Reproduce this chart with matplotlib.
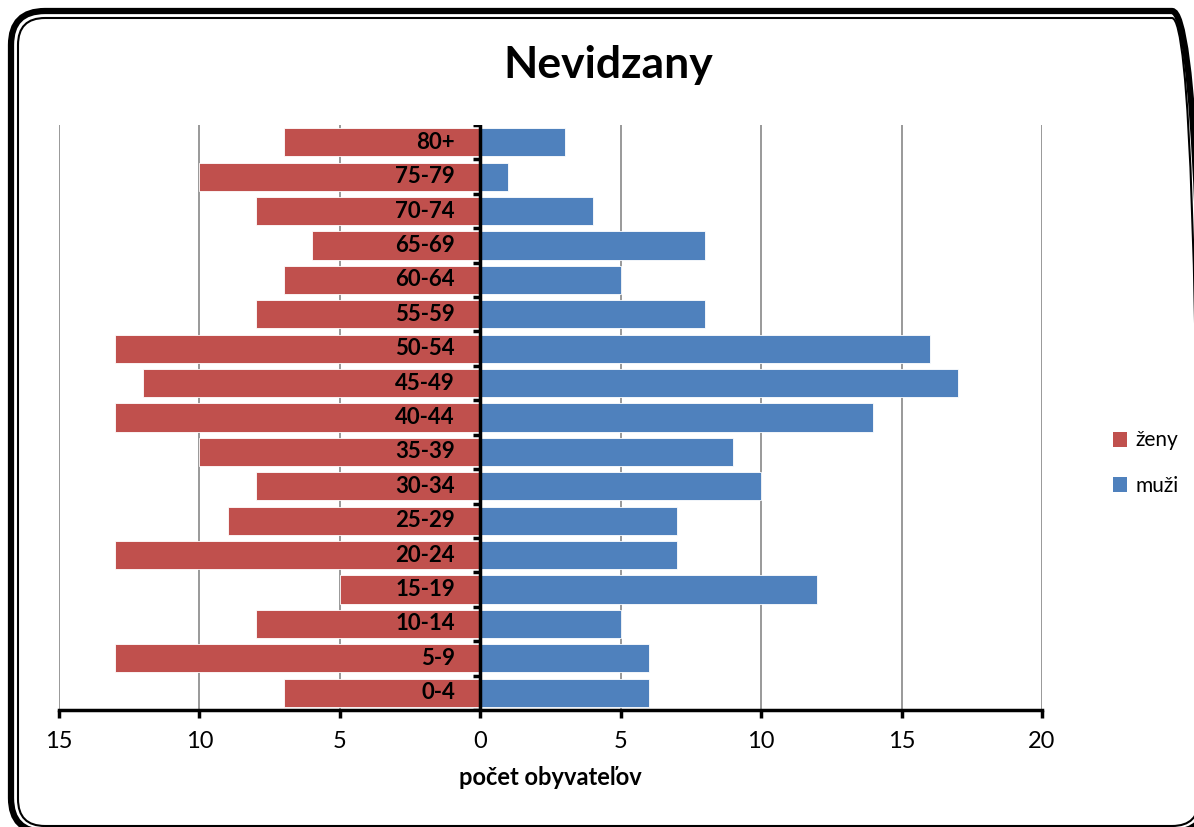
import matplotlib
matplotlib.use("Agg")
import matplotlib.pyplot as plt
from matplotlib.patches import FancyBboxPatch, Patch
import numpy as np

plt.rcParams['font.family'] = ['Lato', 'DejaVu Sans']

categories = ["0-4", "5-9", "10-14", "15-19", "20-24", "25-29", "30-34", "35-39",
              "40-44", "45-49", "50-54", "55-59", "60-64", "65-69", "70-74", "75-79", "80+"]
zeny = [7, 13, 8, 5, 13, 9, 8, 10, 13, 12, 13, 8, 7, 6, 8, 10, 7]
muzi = [6, 6, 5, 12, 7, 7, 10, 9, 14, 17, 16, 8, 5, 8, 4, 1, 3]
x_ticks = [-15, -10, -5, 0, 5, 10, 15, 20]
x_ticklabels = ["15", "10", "5", "0", "5", "10", "15", "20"]

red = "#C0504D"
blue = "#4F81BD"

W, H = 1194, 827
fig = plt.figure(figsize=(W / 100, H / 100), dpi=100)


def frame(x0, y0, x1, y1, r, lw):
    # pixel coords measured from top-left, drawn in inches
    fig.patches.append(FancyBboxPatch((x0 / 100, (H - y1) / 100), (x1 - x0) / 100, (y1 - y0) / 100,
                                      boxstyle="round,pad=0,rounding_size=%f" % (r / 100),
                                      transform=fig.dpi_scale_trans, fill=False,
                                      edgecolor="black", linewidth=lw))


frame(11, 11, 1206, 832, 34, 4.5)
frame(18, 18, 1199, 826, 27, 1.5)

ax = fig.add_axes([59 / W, 1 - 710 / H, (1042 - 59) / W, (710 - 125) / H])
y = np.arange(len(categories))
ax.barh(y, [-v for v in zeny], height=0.82, color=red, edgecolor="white", linewidth=0.6, label="ženy", zorder=3)
ax.barh(y, muzi, height=0.82, color=blue, edgecolor="white", linewidth=0.6, label="muži", zorder=3)

ax.set_xlim(-15, 20)
ax.set_ylim(-0.5, len(categories) - 0.5)
ax.set_xticks(x_ticks)
ax.set_xticklabels(x_ticklabels, fontsize=17)
ax.tick_params(axis='x', direction='out', length=6, width=2.5, pad=9)
ax.set_yticks([])
for xv in x_ticks:
    if xv != 0:
        ax.axvline(xv, color="#888888", linewidth=1.2, zorder=1)

for s in ["left", "right", "top"]:
    ax.spines[s].set_visible(False)
ax.spines["bottom"].set_linewidth(2.5)

# central axis with ticks at category boundaries
ax.axvline(0, color="black", linewidth=2.5, zorder=5)
for b in np.arange(-0.5, len(categories), 1.0):
    ax.plot([-0.25, 0], [b, b], color="black", linewidth=2.5, zorder=5, solid_capstyle="butt")

for yi, c in zip(y, categories):
    ax.text(-0.9, yi, c, ha="right", va="center", fontsize=16, fontweight="bold", zorder=6)

ax.set_xlabel("počet obyvateľov", fontsize=17, fontweight="bold", labelpad=10)
fig.text(608 / W, 1 - 65 / H, "Nevidzany", ha="center", va="center", fontsize=32, fontweight="bold")

handles = [Patch(facecolor=red, label="ženy"), Patch(facecolor=blue, label="muži")]
fig.legend(handles=handles, loc="center left", bbox_to_anchor=(1094 / W, 1 - 463 / H),
           frameon=False, fontsize=15, handlelength=0.7, handleheight=0.7,
           handletextpad=0.4, labelspacing=1.2)

fig.savefig("out.png", dpi=100)
